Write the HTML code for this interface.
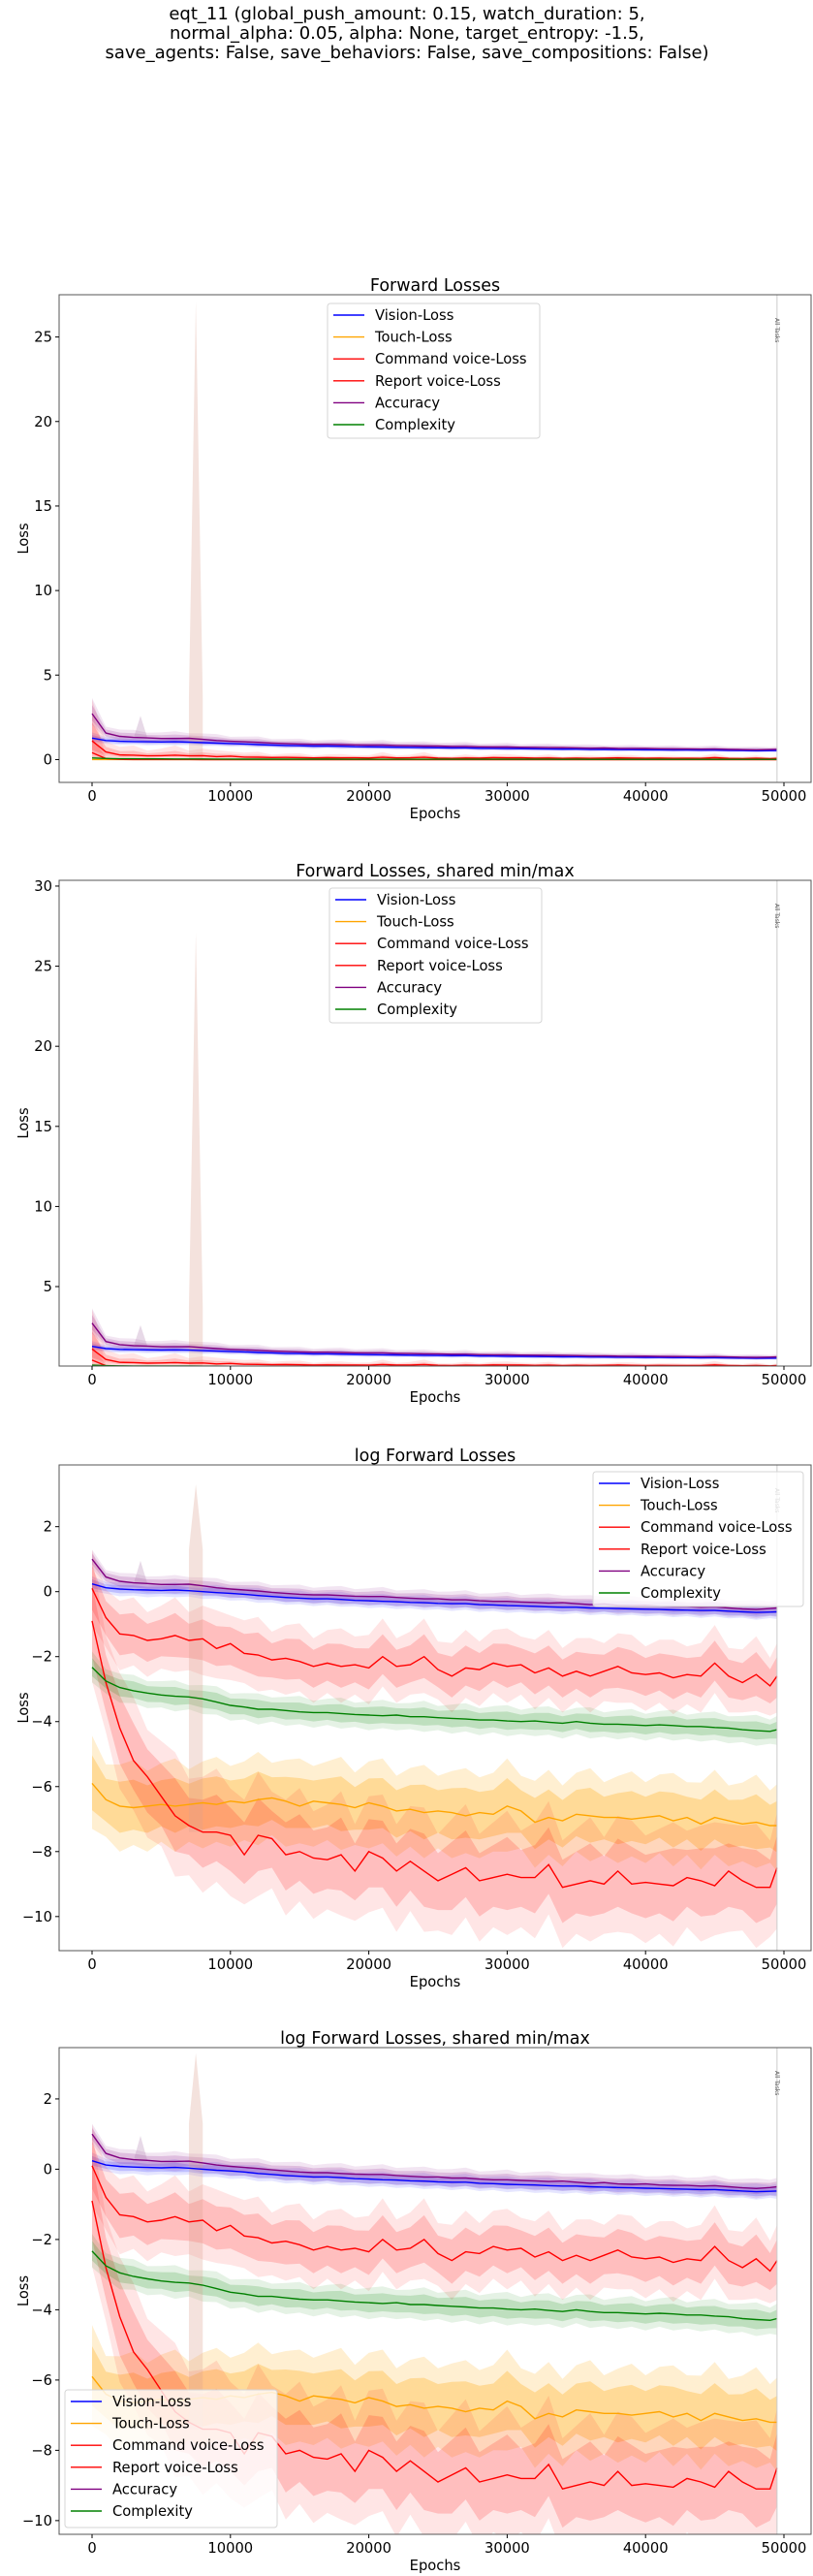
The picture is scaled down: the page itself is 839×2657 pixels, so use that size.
<!DOCTYPE html>
<html><head><meta charset="utf-8"><style>
html,body{margin:0;padding:0;background:#fff}
svg{display:block;font-family:"DejaVu Sans","Liberation Sans",sans-serif}
</style></head><body>
<svg id="fig" width="839" height="2657" viewBox="0 0 839 2657" xmlns="http://www.w3.org/2000/svg">
<rect width="839" height="2657" fill="#fff"/>
<text x="420" y="20" text-anchor="middle" font-size="18">eqt_11 (global_push_amount: 0.15, watch_duration: 5,</text>
<text x="420" y="40" text-anchor="middle" font-size="18">normal_alpha: 0.05, alpha: None, target_entropy: -1.5,</text>
<text x="420" y="60" text-anchor="middle" font-size="18">save_agents: False, save_behaviors: False, save_compositions: False)</text>
</svg>
<script>
const epochs = [];
for (let i = 0; i < 50; i++) epochs.push(i * 1000);
epochs.push(49500);
const seriesNames = ["Vision-Loss","Touch-Loss","Command voice-Loss","Report voice-Loss","Accuracy","Complexity"];
const visionLog = [0.24,0.12,0.08,0.06,0.05,0.04,0.05,0.03,0.0,-0.03,-0.05,-0.08,-0.12,-0.15,-0.18,-0.2,-0.22,-0.22,-0.24,-0.27,-0.28,-0.3,-0.31,-0.33,-0.34,-0.36,-0.37,-0.37,-0.4,-0.41,-0.43,-0.44,-0.45,-0.47,-0.48,-0.48,-0.5,-0.51,-0.52,-0.53,-0.54,-0.55,-0.56,-0.57,-0.58,-0.58,-0.6,-0.62,-0.64,-0.63,-0.62];
const touchLog = [-5.9,-6.4,-6.6,-6.65,-6.6,-6.55,-6.6,-6.55,-6.5,-6.55,-6.45,-6.5,-6.4,-6.35,-6.45,-6.6,-6.45,-6.5,-6.55,-6.65,-6.5,-6.6,-6.75,-6.7,-6.8,-6.75,-6.8,-6.9,-6.8,-6.85,-6.6,-6.75,-7.1,-6.95,-7.05,-6.85,-6.9,-6.95,-6.95,-7.0,-6.95,-6.9,-7.05,-6.95,-7.15,-6.95,-7.05,-7.15,-7.1,-7.2,-7.2];
const commandLog = [0.1,-0.8,-1.3,-1.35,-1.5,-1.45,-1.35,-1.5,-1.45,-1.75,-1.6,-1.9,-1.95,-2.1,-2.05,-2.15,-2.3,-2.2,-2.3,-2.25,-2.35,-2.0,-2.3,-2.25,-2.0,-2.4,-2.6,-2.35,-2.4,-2.2,-2.3,-2.25,-2.5,-2.35,-2.6,-2.45,-2.6,-2.45,-2.3,-2.5,-2.55,-2.5,-2.65,-2.55,-2.6,-2.2,-2.6,-2.8,-2.55,-2.9,-2.6];
const reportLog = [-0.9,-2.8,-4.2,-5.2,-5.7,-6.3,-6.9,-7.2,-7.4,-7.4,-7.5,-8.1,-7.5,-7.6,-8.1,-8.0,-8.2,-8.25,-8.1,-8.6,-8.0,-8.2,-8.6,-8.3,-8.6,-8.9,-8.7,-8.5,-8.9,-8.8,-8.7,-8.8,-8.8,-8.4,-9.1,-9.0,-8.9,-9.0,-8.6,-9.0,-8.95,-9.0,-9.05,-8.8,-8.9,-9.05,-8.6,-8.9,-9.1,-9.1,-8.5];
const accuracyLog = [1.0,0.45,0.32,0.27,0.25,0.22,0.22,0.23,0.18,0.12,0.08,0.05,0.02,-0.02,-0.05,-0.08,-0.1,-0.1,-0.12,-0.14,-0.15,-0.15,-0.18,-0.2,-0.22,-0.22,-0.25,-0.25,-0.28,-0.3,-0.3,-0.32,-0.33,-0.35,-0.34,-0.37,-0.4,-0.38,-0.42,-0.43,-0.42,-0.45,-0.46,-0.46,-0.48,-0.47,-0.5,-0.53,-0.55,-0.52,-0.5];
const complexityLog = [-2.33,-2.75,-2.95,-3.05,-3.12,-3.18,-3.22,-3.24,-3.3,-3.4,-3.5,-3.55,-3.62,-3.62,-3.66,-3.7,-3.72,-3.72,-3.75,-3.78,-3.8,-3.82,-3.8,-3.85,-3.85,-3.88,-3.9,-3.92,-3.95,-3.95,-3.98,-4.0,-3.98,-4.02,-4.05,-4.0,-4.05,-4.08,-4.08,-4.1,-4.12,-4.1,-4.12,-4.15,-4.15,-4.18,-4.2,-4.25,-4.28,-4.3,-4.25];
const spreadLog = [0.12,0.75,0.6,1.0,0.15,0.25];
const spikeSeries = [3,4];
const spikeEpochs = [7500,3500];
const spikePeaks = [3.3,0.95];
const xTicks = [0,10000,20000,30000,40000,50000];

const colors = ["#0000ff","#ffa500","#ff0000","#ff0000","#800080","#008000"];
const bandOpacity = [[0.1,0.17],[0.18,0.28],[0.1,0.17],[0.1,0.17],[0.1,0.17],[0.1,0.17]];
const means = [visionLog,touchLog,commandLog,reportLog,accuracyLog,complexityLog];
const NS = "http://www.w3.org/2000/svg";
const svg = document.getElementById("fig");
function mk(tag, attrs, parent, text){
  const e = document.createElementNS(NS, tag);
  for (const k in attrs) e.setAttribute(k, attrs[k]);
  if (text !== undefined) e.textContent = text;
  (parent || svg).appendChild(e);
  return e;
}
const L = 61, R = 837;
function xs(e){ return 95 + e / 10000 * 142.8; }

const plots = [
  {key:"forward-losses", title:"Forward Losses", top:304, bottom:807, ymin:-1.35, ymax:27.5, ticks:[0,5,10,15,20,25], log:false, legend:{x:338,y:313,w:219,h:139}},
  {key:"forward-losses-shared", title:"Forward Losses, shared min/max", top:908, bottom:1409, ymin:0.04, ymax:30.36, ticks:[5,10,15,20,25,30], log:false, legend:{x:340,y:916,w:219,h:139}},
  {key:"log-forward-losses", title:"log Forward Losses", top:1511, bottom:2012, ymin:-11.05, ymax:3.9, ticks:[2,0,-2,-4,-6,-8,-10], log:true, legend:{x:612,y:1518,w:217,h:139}},
  {key:"log-forward-losses-shared", title:"log Forward Losses, shared min/max", top:2112, bottom:2614, ymin:-10.39, ymax:3.46, ticks:[2,0,-2,-4,-6,-8,-10], log:true, legend:{x:67,y:2465,w:219,h:142}}
];

plots.forEach((p, pi) => {
  const g = mk("g", {});
  
  
  const cid = "clip" + pi;
  const cp = mk("clipPath", {id: cid}, g);
  mk("rect", {x:L, y:p.top, width:R-L, height:p.bottom-p.top}, cp);
  const ys = v => p.bottom - (v - p.ymin) / (p.ymax - p.ymin) * (p.bottom - p.top);
  const tr = v => p.log ? v : Math.exp(v);
  const plotG = mk("g", {"clip-path":"url(#" + cid + ")"}, g);
  means.forEach((m, si) => {
    [1.7, 1.0].forEach((k, li) => {
      const sd = spreadLog[si];
      let up = "", dn = "";
      m.forEach((v, i) => {
        const wob = (i % 3 === 0 ? 1.15 : (i % 3 === 1 ? 0.85 : 1.0));
        up += (i ? "L" : "M") + xs(epochs[i]).toFixed(1) + "," + ys(tr(v + k * sd * wob)).toFixed(1);
      });
      for (let i = m.length - 1; i >= 0; i--) {
        const wob = (i % 2 === 0 ? 1.1 : 0.9);
        dn += "L" + xs(epochs[i]).toFixed(1) + "," + ys(tr(m[i] - k * sd * wob)).toFixed(1);
      }
      const b = mk("path", {d: up + dn + "Z", fill: colors[si], "fill-opacity": bandOpacity[si][li]}, plotG);
      
      
    });
  });
  spikeSeries.forEach((si, j) => {
    const e = spikeEpochs[j], base = means[si][Math.round(e/1000)];
    let d;
    if (si === 3) {
      d = "M" + xs(e-500) + "," + ys(tr(base)) + "L" + xs(e-500) + "," + ys(tr(1.3)) +
        "L" + xs(e) + "," + ys(tr(spikePeaks[j])) + "L" + xs(e+500) + "," + ys(tr(1.3)) +
        "L" + xs(e+500) + "," + ys(tr(base)) + "Z";
    } else {
      d = "M" + xs(e-500) + "," + ys(tr(base)) + "L" + xs(e) + "," + ys(tr(spikePeaks[j])) +
        "L" + xs(e+500) + "," + ys(tr(base)) + "Z";
    }
    const s = mk("path", {d: d, fill: si === 3 ? "#d9a090" : "#b080b0", "fill-opacity": 0.3}, plotG);
    
    
  });
  means.forEach((m, si) => {
    let d = "";
    m.forEach((v, i) => { d += (i ? "L" : "M") + xs(epochs[i]).toFixed(1) + "," + ys(tr(v)).toFixed(1); });
    const ln = mk("path", {d: d, fill: "none", stroke: colors[si], "stroke-width": 1.4}, plotG);
    
    
  });
  mk("line", {x1: xs(49500), x2: xs(49500), y1: p.top, y2: p.bottom, stroke: "#ccc", "stroke-width": 1}, g);
  const at = mk("text", {x: xs(49500) + 2, y: p.top + 20, "font-size": 6, fill: "#555", transform: "rotate(90," + (xs(49500) - 2) + "," + (p.top + 20) + ")"}, g, "All Tasks");
  
  
  const fr = mk("rect", {x: L, y: p.top, width: R - L, height: p.bottom - p.top, fill: "none", stroke: "#555", "stroke-width": 1}, g);
  
  
  xTicks.forEach(t => {
    mk("line", {x1: xs(t), x2: xs(t), y1: p.bottom, y2: p.bottom + 4, stroke: "#000"}, g);
    const tl = mk("text", {x: xs(t), y: p.bottom + 19, "text-anchor": "middle", "font-size": 14.7}, g, String(t));
    
    
  });
  p.ticks.forEach(t => {
    const y = ys(t);
    mk("line", {x1: L - 4, x2: L, y1: y, y2: y, stroke: "#000"}, g);
    const tl = mk("text", {x: L - 7, y: y + 5, "text-anchor": "end", "font-size": 14.7}, g, String(t).replace("-", "\u2212"));
    
    
  });
  const xl = mk("text", {x: (L + R) / 2, y: p.bottom + 37, "text-anchor": "middle", "font-size": 14.7}, g, "Epochs");
  
  
  const cy = (p.top + p.bottom) / 2;
  const yl = mk("text", {x: 24, y: cy, "text-anchor": "middle", "font-size": 14.7, transform: "rotate(-90,24," + cy + ")", dy: 5}, g, "Loss");
  
  
  const tt = mk("text", {x: (L + R) / 2, y: p.top - 4, "text-anchor": "middle", "font-size": 17.5}, g, p.title);
  
  
  const lg = p.legend;
  const lgG = mk("g", {}, g);
  
  
  mk("rect", {x: lg.x, y: lg.y, width: lg.w, height: lg.h, rx: 3, fill: "#fff", "fill-opacity": 0.8, stroke: "#d5d5d5"}, lgG);
  seriesNames.forEach((n, si) => {
    const y = lg.y + 12 + si * 22.6;
    const ent = mk("g", {}, lgG);
    
    
    mk("line", {x1: lg.x + 6, x2: lg.x + 38, y1: y, y2: y, stroke: colors[si], "stroke-width": 1.4}, ent);
    mk("text", {x: lg.x + 49, y: y + 5, "font-size": 14.7}, ent, n);
  });
});
</script>
</body></html>
